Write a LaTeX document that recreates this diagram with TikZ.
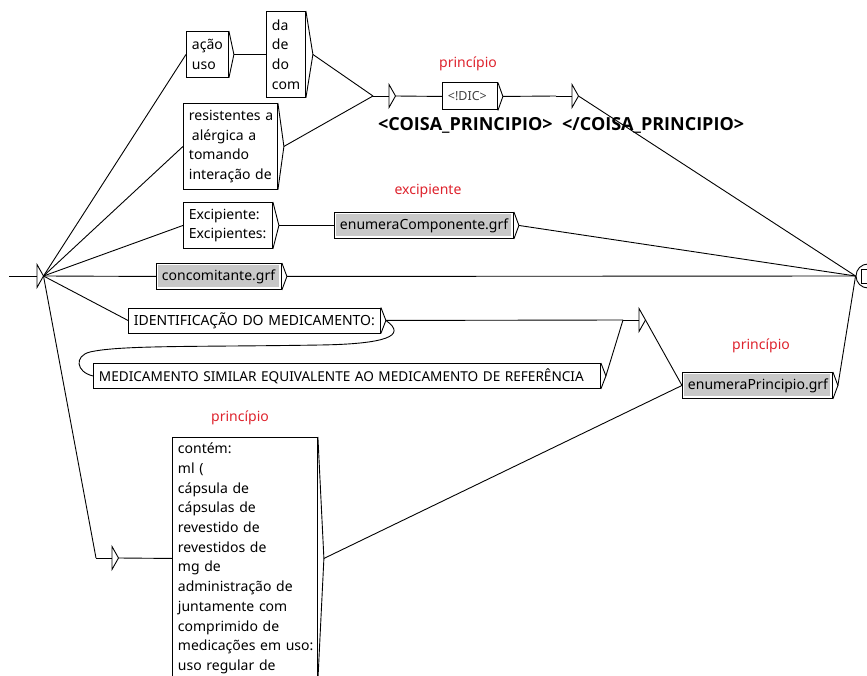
\documentclass[tikz,border=0pt]{standalone}
\usepackage{fontspec}
\setmainfont{Noto Sans}
\newfontfamily\outboldfont{Open Sans}
\usetikzlibrary{calc}
\definecolor{outred}{RGB}{222,35,45}
\definecolor{grfgray}{RGB}{200,200,200}
\newcommand\boxfont{\fontsize{14}{19.7}\selectfont}
\newcommand\chev[2]{\draw[ln] (#1.north east) -- ($(#1.east)+(#2,0)$) coordinate (#1-o) -- (#1.south east);}
\newcommand\etri[3]{%
  \draw[ln] (#2-16,#3) coordinate (#1-i) -- (#2,#3);
  \draw[ln] (#2,#3-11.5) -- (#2+6.5,#3) coordinate (#1-o) -- (#2,#3+11.5) -- cycle;}
\tikzset{
  ln/.style={line width=0.9pt, draw=black},
  ubox/.style={draw, line width=0.9pt, rectangle, inner xsep=5.5pt, inner ysep=0pt,
    align=left, anchor=north west, font=\boxfont, text=black},
  grf/.style={ubox, path picture={\fill[grfgray]
      ($(path picture bounding box.north west)+(2pt,-2pt)$) rectangle
      ($(path picture bounding box.south east)+(-2pt,2pt)$);}},
  outlbl/.style={font=\fontsize{14}{16}\selectfont, text=outred, inner sep=0pt},
  outbold/.style={font=\outboldfont\fontsize{18}{20}\selectfont\bfseries, inner sep=0pt, anchor=west},
}
\begin{document}
\begin{tikzpicture}[x=1pt,y=-1pt]
\useasboundingbox (0,0) rectangle (867,676);

% boxes
\node[ubox, minimum width=42pt, text width=31pt, minimum height=46pt] (acao) at (186,31) {ação\\uso};
\node[ubox, minimum width=39pt, text width=28pt, minimum height=86pt] (dade) at (266,11) {da\\de\\do\\com};
\node[ubox, minimum width=94pt, text width=83pt, minimum height=86pt] (resist) at (183,103) {resistentes~a\\\hspace*{3pt}alérgica~a\\tomando\\interação~de};
\node[ubox, minimum width=55pt, text width=44pt, minimum height=27pt, font=\fontsize{12.5}{15}\selectfont, text=black!75] (dic) at (442,82.5) {<!DIC>};
\node[ubox, minimum width=89pt, text width=78pt, minimum height=46pt] (excip) at (183,202) {Excipiente:\\Excipientes:};
\node[grf, minimum width=179pt, text width=168pt, minimum height=26pt] (ecomp) at (334,212) {enumeraComponente.grf};
\node[grf, minimum width=125pt, text width=114pt, minimum height=26pt] (concom) at (156,263) {concomitante.grf};
\node[ubox, minimum width=252pt, text width=241pt, minimum height=25pt] (ident) at (128,307.5) {\mbox{IDENTIFICAÇÃO DO MEDICAMENTO:}};
\node[ubox, minimum width=507pt, text width=496pt, minimum height=25pt, font=\fontsize{13.6}{19.7}\selectfont] (similar) at (93,363) {\mbox{MEDICAMENTO SIMILAR EQUIVALENTE AO MEDICAMENTO DE REFERÊNCIA}};
\node[grf, minimum width=150pt, text width=139pt, minimum height=26pt] (eprinc) at (682,372) {enumeraPrincipio.grf};
\node[ubox, minimum width=145pt, text width=134pt, minimum height=242pt] (contem) at (172,437)
  {contém:\\ml~(\\cápsula~de\\cápsulas~de\\revestido~de\\revestidos~de\\mg~de\\administração~de\\juntamente~com\\comprimido~de\\medicações~em~uso:\\uso~regular~de};

\chev{acao}{5}
\chev{dade}{7}
\chev{resist}{6}
\chev{dic}{5}
\chev{excip}{6}
\chev{ecomp}{5}
\chev{concom}{5}
\chev{ident}{5}
\chev{similar}{5}
\chev{eprinc}{5}
\chev{contem}{6}

% labels
\node[outlbl] (l1) at (468,64) {princípio};
\node[outlbl] (l2) at (428,191) {excipiente};
\node[outlbl] (l3) at (761,346) {princípio};
\node[outlbl] (l4) at (240,418) {princípio};
\node[outbold] (o1) at (378,125) {<COISA\_PRINCIPIO>};
\node[outbold] (o2) at (562,125) {</COISA\_PRINCIPIO>};

% states
\coordinate (start) at (9,276);
\etri{init}{37}{276}
\draw[ln] (start) -- (init-i);
\etri{e1}{389}{96}
\etri{e2}{572}{96}
\etri{e3}{639}{320}
\etri{e4}{112}{558}
\node[draw, circle, line width=0.9pt, minimum size=24pt, inner sep=0pt] (fin) at (868,276) {};
\node[draw, line width=0.9pt, minimum size=14pt, inner sep=0pt] (finsq) at (868,276) {};

% connectors
\draw[ln] (init-o) -- (acao.west);
\draw[ln] (init-o) -- (resist.west);
\draw[ln] (init-o) -- (excip.west);
\draw[ln] (init-o) -- (concom.west);
\draw[ln] (init-o) -- (ident.west);
\draw[ln] (init-o) -- (e4-i);
\draw[ln] (acao-o) -- (dade.west);
\draw[ln] (dade-o) -- (e1-i);
\draw[ln] (resist-o) -- (e1-i);
\draw[ln] (e1-o) -- (dic.west);
\draw[ln] (dic-o) -- (e2-i);
\draw[ln] (e2-o) -- (fin.west);
\draw[ln] (excip-o) -- (ecomp.west);
\draw[ln] (ecomp-o) -- (fin.west);
\draw[ln] (concom-o) -- (fin.west);
\draw[ln] (ident-o) -- (e3-i);
\draw[ln] (ident-o) .. controls (408,336) and (385,344) .. (320,345)
   .. controls (200,347) and (120,345) .. (90,352)
   .. controls (74,356) and (76,372) .. (similar.west);
\draw[ln] (similar-o) -- (e3-i);
\draw[ln] (e3-o) -- (eprinc.west);
\draw[ln] (e4-o) -- (contem.west);
\draw[ln] (contem-o) -- (eprinc.west);
\draw[ln] (eprinc-o) -- (fin.west);
\end{tikzpicture}
\end{document}
